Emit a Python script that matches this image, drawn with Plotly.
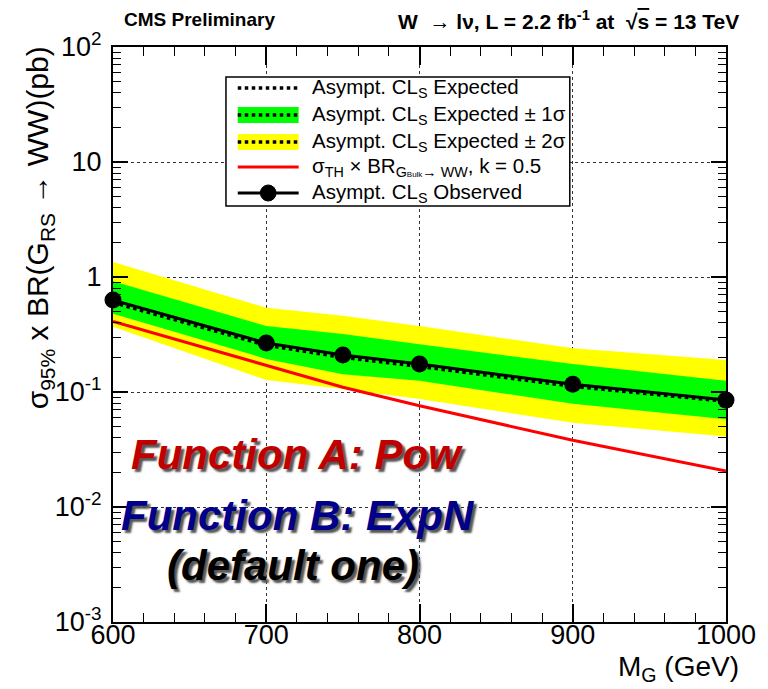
import plotly.graph_objects as go

# ---------------- data ----------------
mass = [600, 700, 750, 800, 900, 1000]
observed = [0.63, 0.267, 0.21, 0.175, 0.117, 0.085]
expected = [0.60, 0.255, 0.20, 0.167, 0.112, 0.083]
exp_plus1 = [0.92, 0.375, 0.32, 0.26, 0.175, 0.125]
exp_minus1 = [0.48, 0.194, 0.143, 0.125, 0.079, 0.058]
exp_plus2 = [1.35, 0.54, 0.46, 0.375, 0.24, 0.19]
exp_minus2 = [0.37, 0.127, 0.106, 0.087, 0.054, 0.041]
theory = [0.41, 0.172, 0.11, 0.076, 0.038, 0.0205]

x_ticks = [600, 700, 800, 900, 1000]
y_tickvals = [1e-3, 1e-2, 1e-1, 1, 10, 100]
y_ticktext = ["10<sup>-3</sup>", "10<sup>-2</sup>", "10<sup>-1</sup>", "1", "10", "10<sup>2</sup>"]
y_decades = [1e-3, 1e-2, 1e-1, 1, 10]
y_minor_mult = [2, 3, 4, 5, 6, 7, 8, 9]

legend_labels = [
    "Asympt. CL<sub>S</sub> Expected",
    "Asympt. CL<sub>S</sub> Expected ± 1σ",
    "Asympt. CL<sub>S</sub> Expected ± 2σ",
    "σ<sub>TH</sub> × BR<sub>G<span style='font-size:8px'>Bulk</span>→ WW</sub>, k = 0.5",
    "Asympt. CL<sub>S</sub> Observed",
]

FONT = "Liberation Sans, Arial, Helvetica, sans-serif"
# page body has an 8px margin: work in window pixels, shift by 8
OFF = 8
W, H = 768 - OFF, 689 - OFF
L, R, T, B = 113, 737, 47, 622   # plot frame in window pixels

def px(x):
    return (x - L) / (R - L)

def py(y):
    return (B - y) / (B - T)

fig = go.Figure()

fig.add_trace(go.Scatter(
    x=mass + mass[::-1], y=exp_plus2 + exp_minus2[::-1],
    fill="toself", fillcolor="#ffff00", line=dict(width=0),
    mode="lines", hoverinfo="skip", showlegend=False))
fig.add_trace(go.Scatter(
    x=mass + mass[::-1], y=exp_plus1 + exp_minus1[::-1],
    fill="toself", fillcolor="#00ff00", line=dict(width=0),
    mode="lines", hoverinfo="skip", showlegend=False))
fig.add_trace(go.Scatter(
    x=mass, y=theory, mode="lines",
    line=dict(color="#ff0000", width=3), showlegend=False))
fig.add_trace(go.Scatter(
    x=mass, y=expected, mode="lines",
    line=dict(color="black", width=3.5, dash="dot"), showlegend=False))
fig.add_trace(go.Scatter(
    x=mass, y=observed, mode="lines+markers",
    line=dict(color="black", width=3),
    marker=dict(color="black", size=17, symbol="circle"),
    cliponaxis=False, showlegend=False))

axis_common = dict(
    showline=True, linecolor="black", linewidth=2, mirror="allticks",
    ticks="inside", tickcolor="black", tickwidth=1.5,
    showgrid=True, gridcolor="#333333", griddash="dot", gridwidth=1,
    zeroline=False, tickfont=dict(family=FONT, size=27, color="black"),
)

y_minor_vals = [d * m for d in y_decades for m in y_minor_mult]

fig.update_xaxes(
    range=[600, 1000], tickvals=x_ticks, ticklen=18, ticklabelstandoff=-12,
    minor=dict(dtick=20, ticks="inside", ticklen=9, tickcolor="black", tickwidth=1.2, showgrid=False),
    **axis_common)
fig.update_yaxes(
    type="log", range=[-3, 2], tickvals=y_tickvals, ticktext=y_ticktext, ticklen=15,
    ticklabelstandoff=4,
    minor=dict(tickvals=y_minor_vals, ticks="inside", ticklen=8, tickcolor="black", tickwidth=1.2, showgrid=False),
    **axis_common)

shapes = []
annotations = []

# legend box
shapes.append(dict(type="rect", xref="paper", yref="paper", layer="above",
                   x0=px(228), x1=px(578), y0=py(206), y1=py(77),
                   fillcolor="white", line=dict(color="black", width=1.5)))
sx0, sx1 = 240, 302
rows = [88, 115, 142, 167, 193]
shapes.append(dict(type="rect", xref="paper", yref="paper", layer="above",
                   x0=px(sx0), x1=px(sx1), y0=py(rows[1] + 8), y1=py(rows[1] - 8),
                   fillcolor="#00ff00", line=dict(width=0)))
shapes.append(dict(type="rect", xref="paper", yref="paper", layer="above",
                   x0=px(sx0), x1=px(sx1), y0=py(rows[2] + 8), y1=py(rows[2] - 8),
                   fillcolor="#ffff00", line=dict(width=0)))
for r in rows[:3]:
    shapes.append(dict(type="line", xref="paper", yref="paper", layer="above",
                       x0=px(sx0), x1=px(sx1), y0=py(r), y1=py(r),
                       line=dict(color="black", width=3.5, dash="dot")))
shapes.append(dict(type="line", xref="paper", yref="paper", layer="above",
                   x0=px(sx0), x1=px(sx1), y0=py(rows[3]), y1=py(rows[3]),
                   line=dict(color="#ff0000", width=3)))
shapes.append(dict(type="line", xref="paper", yref="paper", layer="above",
                   x0=px(sx0), x1=px(sx1), y0=py(rows[4]), y1=py(rows[4]),
                   line=dict(color="black", width=3)))
shapes.append(dict(type="circle", xref="paper", yref="paper", layer="above",
                   x0=px(263), x1=px(279), y0=py(rows[4] + 8), y1=py(rows[4] - 8),
                   fillcolor="black", line=dict(color="black", width=1)))
for r, lab in zip(rows, legend_labels):
    annotations.append(dict(xref="paper", yref="paper", x=px(314), y=py(r),
                            xanchor="left", yanchor="middle", showarrow=False,
                            text=lab, font=dict(family=FONT, size=20.5, color="black")))

# header
annotations.append(dict(xref="paper", yref="paper", x=px(122), y=py(19),
                        xanchor="left", yanchor="middle", showarrow=False,
                        text="<b>CMS Preliminary</b>",
                        font=dict(family=FONT, size=19, color="black")))
annotations.append(dict(xref="paper", yref="paper", x=px(752), y=py(20),
                        xanchor="right", yanchor="middle", showarrow=False,
                        text="<b>W&nbsp;&nbsp;→ lν, L = 2.2 fb<sup>-1</sup> at&nbsp;&nbsp;√<span style='text-decoration:overline'>s</span> = 13 TeV</b>",
                        font=dict(family=FONT, size=21, color="black")))

# axis titles
annotations.append(dict(xref="paper", yref="paper", x=px(38), y=py(228),
                        xanchor="center", yanchor="middle", showarrow=False, textangle=-90,
                        text="σ<sub>95%</sub> x BR(G<sub>RS</sub> → WW)(pb)",
                        font=dict(family=FONT, size=30, color="black")))
annotations.append(dict(xref="paper", yref="paper", x=px(752), y=py(668),
                        xanchor="right", yanchor="middle", showarrow=False,
                        text="M<sub>G</sub> (GeV)",
                        font=dict(family=FONT, size=28, color="black")))

# function labels
shadow = "3px 3px 2px #555555"
annotations.append(dict(xref="paper", yref="paper", x=px(300), y=py(455),
                        xanchor="center", yanchor="middle", showarrow=False,
                        text="<b><i>Function A: Pow</i></b>",
                        font=dict(family=FONT, size=42, color="#c00000", shadow=shadow)))
annotations.append(dict(xref="paper", yref="paper", x=px(301), y=py(515),
                        xanchor="center", yanchor="middle", showarrow=False,
                        text="<b><i>Function B: ExpN</i></b>",
                        font=dict(family=FONT, size=42, color="#00008b", shadow=shadow)))
annotations.append(dict(xref="paper", yref="paper", x=px(296), y=py(565),
                        xanchor="center", yanchor="middle", showarrow=False,
                        text="<b><i>(default one)</i></b>",
                        font=dict(family=FONT, size=42, color="black", shadow=shadow)))

fig.update_layout(
    width=W, height=H,
    margin=dict(l=L - OFF, r=(768 - R), t=T - OFF, b=(689 - B)),
    paper_bgcolor="white", plot_bgcolor="white",
    shapes=shapes, annotations=annotations,
    font=dict(family=FONT, color="black"),
    showlegend=False,
)

fig.write_html("out.html")
